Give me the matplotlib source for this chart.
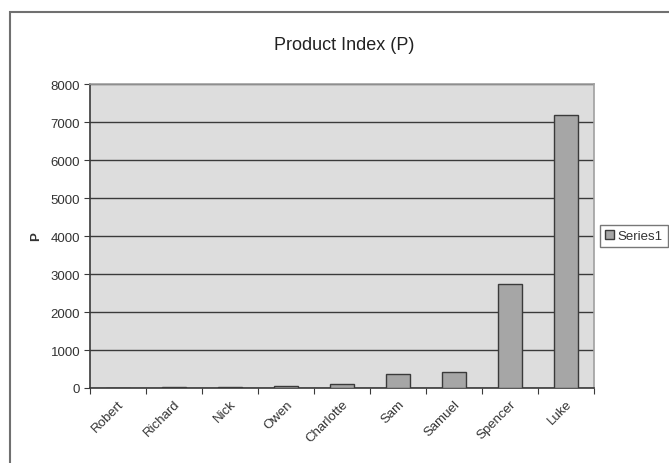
import matplotlib
matplotlib.use('Agg')
import matplotlib.pyplot as plt
from matplotlib.patches import Rectangle

plt.rcParams['font.family'] = ['Liberation Sans', 'DejaVu Sans']

# 各人的 P 值
names = ['Robert', 'Richard', 'Nick', 'Owen', 'Charlotte', 'Sam', 'Samuel', 'Spencer', 'Luke']
p_values = [0, 35, 30, 65, 95, 375, 410, 2750, 7180]
yticks = [0, 1000, 2000, 3000, 4000, 5000, 6000, 7000, 8000]

fig = plt.figure(figsize=(6.69, 4.64), dpi=100)

# 外框
fig.patches.append(Rectangle((10 / 669, -0.05), 1.0, 1 - 13 / 464 + 0.05,
                             transform=fig.transFigure, fill=False,
                             edgecolor='#707070', linewidth=1.5))

ax = fig.add_axes([90 / 669, 1 - 389 / 464, (594 - 90) / 669, (389 - 85) / 464])
ax.set_facecolor('#dddddd')

x = range(len(names))
bars = ax.bar(x, p_values, width=0.42, color='#a6a6a6', edgecolor='#3a3a3a',
              linewidth=1.0, label='Series1', zorder=3)

ax.set_xlim(-0.5, len(names) - 0.5)
ax.set_ylim(0, 8000)
ax.set_yticks(yticks)
ax.set_yticklabels([str(v) for v in yticks], fontsize=9.5, color='#333333')
ax.yaxis.grid(True, color='#3a3a3a', linewidth=1.0, zorder=1)

# 类别标签居中，刻度线在类别之间
ax.set_xticks([i - 0.5 for i in range(len(names) + 1)])
ax.set_xticklabels([])
ax.set_xticks(list(x), minor=True)
ax.set_xticklabels(names, minor=True, rotation=45, ha='right', rotation_mode='anchor',
                   fontsize=9.5, color='#333333')
ax.tick_params(axis='x', which='minor', length=0, pad=7)
ax.tick_params(axis='x', which='major', length=4, color='#3a3a3a', direction='out')
ax.tick_params(axis='y', length=4, color='#3a3a3a', direction='out', pad=3)

for side in ['top', 'right']:
    ax.spines[side].set_color('#a0a0a0')
    ax.spines[side].set_linewidth(1.2)
for side in ['left', 'bottom']:
    ax.spines[side].set_color('#3a3a3a')
    ax.spines[side].set_linewidth(1.2)

ax.set_ylabel('P', fontsize=9.5, fontweight='bold', labelpad=6, color='#333333')

fig.text(344 / 669, 1 - 46 / 464, 'Product Index (P)', ha='center', va='center',
         fontsize=13, color='#222222')

leg = ax.legend(loc='center left', bbox_to_anchor=(1.012, 0.5), fontsize=9.5,
                frameon=True, fancybox=False, handlelength=0.7, handleheight=0.7,
                handletextpad=0.3, borderpad=0.35, borderaxespad=0)
leg.get_frame().set_edgecolor('#555555')
leg.get_frame().set_linewidth(1.0)
for t in leg.get_texts():
    t.set_color('#333333')

fig.savefig('out.png', dpi=100, facecolor='white')
